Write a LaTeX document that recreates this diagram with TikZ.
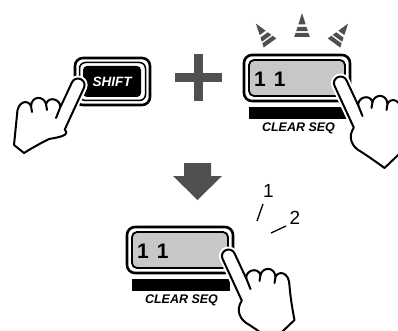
\documentclass[tikz,border=0pt]{standalone}
\usepackage{fontspec}
\setmainfont{Liberation Sans}
\definecolor{keygray}{gray}{0.78}
\definecolor{markgray}{HTML}{505050}

% outline of a pointing hand, finger tip near the origin, finger towards upper left
\newcommand\handtop{(-5,8.7) .. controls (-6.5,5.4) and (-5,1.6) .. (-1.7,0.1)
  .. controls (1.6,-1.4) and (5.5,0) .. (7,3.3) -- (19,29)
  .. controls (17,21) and (30,16) .. (33,25)
  .. controls (35,17) and (47,16) .. (48,27)
  .. controls (51,20) and (62,22) .. (62,36)}
\newcommand\handlong{\handtop .. controls (63,48) and (65,60) .. (67,70) -- (45,91)
  .. controls (37,85) and (28,79) .. (22,75)
  .. controls (12,70) and (8,60) .. (14.3,50.6) -- cycle}
\newcommand\handshort{\handtop .. controls (63,46) and (64,56) .. (65,66) -- (55,74)
  .. controls (47,69) and (38,64) .. (30,60)
  .. controls (18,58) and (9,56) .. (14.3,50.6) -- cycle}

\tikzset{
  halo/.style={draw=white, line width=6, line join=round},
  handline/.style={draw=black, line width=2, line join=round, line cap=round},
  outerframe/.style={draw=black, line width=2.6, rounded corners=8},
  labelfont/.style={font=\bfseries\itshape\fontsize{12.5}{13}\selectfont, inner sep=0pt},
  digitfont/.style={font=\bfseries\fontsize{21}{21}\selectfont, inner sep=0pt},
  countfont/.style={font=\fontsize{19}{19}\selectfont, inner sep=0pt},
  handlong/.pic={
    \path[halo] \handlong;
    \path[handline, fill=white] \handlong;
    \draw[handline] (19,29) -- (23,39) (33,25) -- (32,31) (48,27) -- (47,33);
  },
  handshort/.pic={
    \path[halo] \handshort;
    \path[handline, fill=white] \handshort;
    \draw[handline] (19,29) -- (23,39) (33,25) -- (32,31) (48,27) -- (47,33);
  },
  clearbutton/.pic={
    \draw[outerframe] (0,0) rectangle (106,46);
    \draw[line width=1.8, fill=keygray, rounded corners=5] (5,5) rectangle (101,41);
    \fill (5,52) rectangle (103,64);
    \node[labelfont] (-label) at (54.5,73) {CLEAR SEQ};
    \node[digitfont, anchor=west] (-digits) at (10,24) {1\kern8pt1};
  },
  flashray/.pic={
    % a lamp ray cut by two white bands
    \fill[markgray] (0,-24) -- (3.7,-12.5) -- (-3.7,-12.5) -- cycle;
    \fill[markgray] (-4.5,-10) -- (4.5,-10) -- (5.9,-5.8) -- (-5.9,-5.8) -- cycle;
    \fill[markgray] (-6.4,-4.2) -- (6.4,-4.2) -- (7.8,0) -- (-7.8,0) -- cycle;
  }
}

\begin{document}
\begin{tikzpicture}[x=1pt, y=-1pt]
\useasboundingbox (0,0) rectangle (398,331);
\clip (0,0) rectangle (398,331);

% SHIFT key
\draw[outerframe] (75,58) rectangle (150,105);
\draw[line width=1.5, rounded corners=6] (79.5,62.5) rectangle (145.5,100.5);
\fill[rounded corners=4] (83,66) rectangle (141,97);
\node[labelfont, white, font=\bfseries\itshape\fontsize{13.5}{14}\selectfont] (shift) at (112,81.5) {SHIFT};

% plus sign
\fill[markgray] (175,73) rectangle (222,82);
\fill[markgray] (194,54) rectangle (203,101);

% blinking rays above the upper key
\pic at (302,37) {flashray};
\pic[rotate=36] at (270,43) {flashray};
\pic[rotate=-36] at (334,43) {flashray};

% CLEAR SEQ keys
\pic (top) at (244,55) {clearbutton};
\pic (bottom) at (127,227) {clearbutton};

% big down arrow
\fill[markgray] (184,163) -- (211,163) -- (211,176) -- (222,176) -- (197.5,200)
  -- (173,176) -- (184,176) -- cycle;

% press counter
\node[countfont] (one) at (268.5,191) {1};
\node[countfont] (two) at (295,218) {2};
\coordinate (t1a) at (263,204);
\coordinate (t1b) at (257,221);
\coordinate (t2a) at (286,226);
\coordinate (t2b) at (271,233);
\draw[line width=1.3] (t1a) -- (t1b);
\draw[line width=1.3] (t2a) -- (t2b);

% hands
\pic[xscale=-1] at (79,79) {handshort};
\pic at (339.5,77) {handlong};
\pic at (227.5,250) {handlong};
\end{tikzpicture}
\end{document}
